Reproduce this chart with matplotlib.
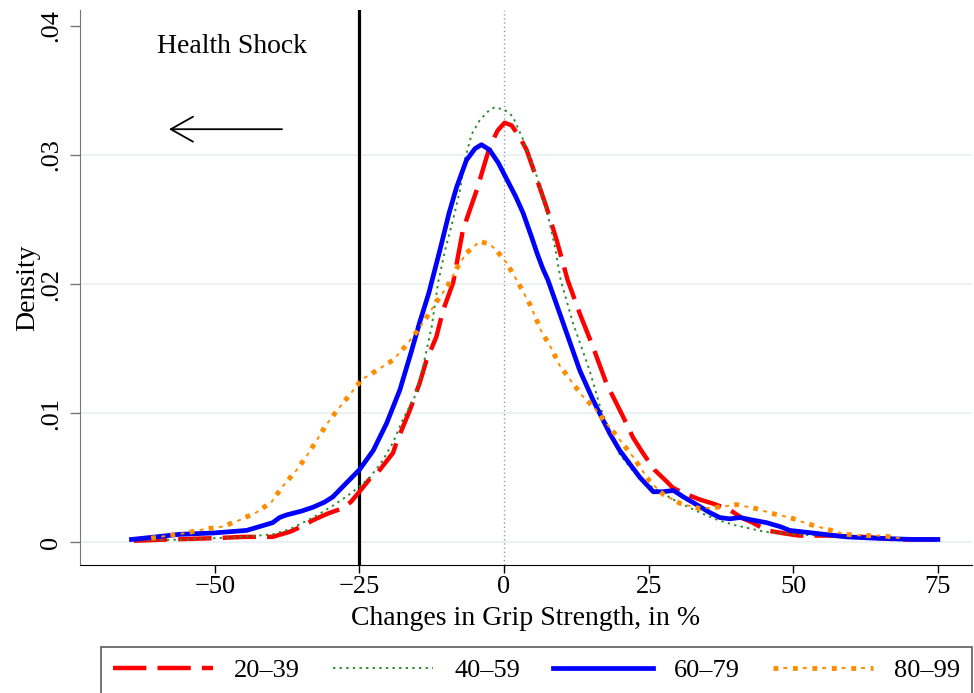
import numpy as np
import matplotlib
matplotlib.use("Agg")
import matplotlib.pyplot as plt

plt.rcParams['font.family'] = ['Liberation Serif', 'DejaVu Serif']

# kernel densities of grip strength changes by age group
red_x = [-64, -58, -50, -45, -40, -37, -35, -33, -30.5, -28, -26.5, -25, -23.2, -22, -19.2,
         -18.6, -16.3, -15.5, -14.6, -13.4, -11.7, -10.5, -8.8, -7.1, -4.7, -2.5, -1.1, 0.1,
         1.3, 2.7, 3.9, 5.7, 7.3, 9.1, 11, 13.1, 15.4, 17.7, 20.6, 22.3, 24, 26, 28.1, 29.2,
         31, 33.8, 36, 39, 41, 43, 45.4, 48, 51, 56, 62, 68, 75]
red_y = [0.0001, 0.0002, 0.0003, 0.0004, 0.0004, 0.0008, 0.0012, 0.0017, 0.0022, 0.0026,
         0.0031, 0.0039, 0.0049, 0.0053, 0.0069, 0.0077, 0.0102, 0.0112, 0.0123, 0.0141,
         0.0159, 0.0180, 0.0201, 0.0242, 0.0273, 0.0306, 0.0319, 0.0325, 0.0323, 0.0314,
         0.0304, 0.0281, 0.0260, 0.0234, 0.0203, 0.0177, 0.0151, 0.0123, 0.0097, 0.0081,
         0.0069, 0.0056, 0.0047, 0.0042, 0.0038, 0.0033, 0.0030, 0.0025, 0.0019, 0.0015,
         0.0009, 0.0007, 0.0005, 0.0005, 0.0004, 0.0002, 0.0002]

green_x = [-64, -55, -45, -40, -37, -33, -30, -27.3, -25, -23.2, -21, -19.2, -17.5, -15.5,
           -14, -12.5, -11.4, -10.2, -8.8, -7.6, -6.8, -5.6, -4.2, -2.5, -1.6, 0.1, 1.5, 3.3,
           5.7, 7.5, 8.8, 9.8, 11.9, 14.8, 16.6, 18, 20, 22.5, 24.7, 27, 30, 33.8, 37, 40,
           45, 50, 55, 60, 65, 71]
green_y = [0.0001, 0.0002, 0.0004, 0.0006, 0.0010, 0.0019, 0.0027, 0.0035, 0.0043, 0.0050,
           0.0063, 0.0077, 0.0095, 0.0112, 0.0136, 0.0167, 0.0201, 0.0226, 0.0250, 0.0273,
           0.0296, 0.0316, 0.0327, 0.0335, 0.0337, 0.0335, 0.0330, 0.0312, 0.0283, 0.0255,
           0.0229, 0.0203, 0.0170, 0.0133, 0.0105, 0.0089, 0.0068, 0.0054, 0.0045, 0.0039,
           0.0031, 0.0023, 0.0017, 0.0013, 0.0008, 0.0006, 0.0005, 0.0004, 0.0003, 0.0002]

blue_x = [-64.4, -56, -50.3, -44.5, -40, -38.8, -37.6, -35, -33, -31, -29.6, -27.2, -25,
          -22.6, -20.3, -18, -16, -14.6, -13, -11.1, -9.5, -8.2, -6.5, -5, -3.9, -2.5, -1,
          0.5, 2, 3.3, 4.8, 5.7, 6.7, 7.6, 10.2, 13.1, 15.4, 18.3, 20, 22, 23.5, 25.8, 27.5,
          29.3, 31, 33.3, 35.5, 37.3, 39, 40.8, 43, 45.4, 47.7, 49.4, 53.4, 59.2, 64, 70.7, 75]
blue_y = [0.0002, 0.0006, 0.0007, 0.0009, 0.0015, 0.0019, 0.0021, 0.0024, 0.0027, 0.0031,
          0.0035, 0.0046, 0.0056, 0.0071, 0.0092, 0.0118, 0.0148, 0.0170, 0.0193, 0.0226,
          0.0255, 0.0275, 0.0296, 0.0305, 0.0308, 0.0304, 0.0294, 0.0281, 0.0268, 0.0255,
          0.0236, 0.0224, 0.0212, 0.0203, 0.0170, 0.0133, 0.0110, 0.0084, 0.0071, 0.0059,
          0.0050, 0.0039, 0.0039, 0.0040, 0.0035, 0.0029, 0.0023, 0.0019, 0.0018, 0.0019,
          0.0017, 0.0015, 0.0012, 0.0009, 0.0007, 0.0004, 0.0003, 0.0002, 0.0002]

orange_x = [-61, -58, -55, -51.8, -48.6, -45.7, -42.8, -40.2, -38.3, -36, -34.2, -32.5,
            -30.7, -28.7, -26.7, -24.6, -22, -19.2, -17.2, -15.1, -13.4, -11.7, -9.7, -8.2,
            -6.5, -4.2, -2.5, -1.3, 0.5, 2.2, 4.5, 6.5, 8.2, 9.6, 11.4, 13.4, 15.6, 17.7,
            19.7, 22.3, 25.2, 27.5, 30.4, 33.8, 37, 40.2, 43.5, 46.5, 49.4, 52.6, 55.8, 58.9,
            62, 65.3, 68.4]
orange_y = [0.0003, 0.0005, 0.0007, 0.0010, 0.0012, 0.0017, 0.0023, 0.0031, 0.0043, 0.0055,
            0.0066, 0.0078, 0.0091, 0.0103, 0.0114, 0.0126, 0.0133, 0.0141, 0.0151, 0.0163,
            0.0174, 0.0186, 0.0199, 0.0212, 0.0224, 0.0233, 0.0231, 0.0226, 0.0216, 0.0203,
            0.0184, 0.0163, 0.0150, 0.0137, 0.0126, 0.0114, 0.0104, 0.0092, 0.0081, 0.0066,
            0.0047, 0.0037, 0.0030, 0.0026, 0.0027, 0.0029, 0.0026, 0.0022, 0.0019, 0.0014,
            0.0010, 0.0006, 0.0005, 0.0005, 0.0003]

labels = ['20–39', '40–59', '60–79', '80–99']
xticks = [-50, -25, 0, 25, 50, 75]
yticks = [0, 0.01, 0.02, 0.03, 0.04]
ytick_labels = ['0', '.01', '.02', '.03', '.04']
shock_line = -25

fig = plt.figure(figsize=(9.74, 6.93), dpi=100)
ax = fig.add_axes([80 / 974, 128 / 693, 892 / 974, 555 / 693])

# grid
for yv in yticks[:-1]:
    ax.axhline(yv, color='#e8f0f0', lw=1.2, zorder=0)

ax.axvline(0, color='#999999', lw=1, ls=(0, (1, 2)), zorder=1)
ax.axvline(shock_line, color='black', lw=2.3, zorder=1)

l1, = ax.plot(red_x, red_y, color='red', lw=3.2, ls=(0, (7.5, 2.5)), zorder=2)
l2, = ax.plot(green_x, green_y, color='#2e8b2e', lw=1.4, ls=(0, (1.2, 2.2)), zorder=3)
l3, = ax.plot(blue_x, blue_y, color='blue', lw=3.4, zorder=4)
# stata dash-dot: thick square dots with thin short dashes in between
l4a, = ax.plot(orange_x, orange_y, color='#ff8c00', lw=3.5, ls=(0, (1, 3)), zorder=5)
l4b, = ax.plot(orange_x, orange_y, color='#ff8c00', lw=1.4, ls=(4.7, (2, 8)), zorder=5)

ax.text(-47.1, 0.0384, 'Health Shock', fontsize=20, ha='center', va='center')
ax.annotate('', xy=(-58.4, 0.0320), xytext=(-37.9, 0.0320),
            arrowprops=dict(arrowstyle='->,head_length=0.8,head_width=0.45',
                            color='black', lw=1.3, mutation_scale=20))

ax.set_xlim(-73.3, 80.9)
ax.set_ylim(-0.00178, 0.04124)
ax.set_xticks(xticks)
ax.set_yticks(yticks)
ax.set_yticklabels(ytick_labels, rotation=90, va='center')
ax.tick_params(axis='x', labelsize=19, length=6, width=1, pad=2)
ax.tick_params(axis='y', labelsize=19, length=7, width=1, color='#777777', pad=6)

for s in ['top', 'right']:
    ax.spines[s].set_visible(False)
ax.spines['left'].set_color('#777777')
ax.spines['bottom'].set_color('black')

ax.set_xlabel('Changes in Grip Strength, in %', fontsize=20, labelpad=6)
ax.set_ylabel('Density', fontsize=20, labelpad=0)

leg = ax.legend([l1, l2, l3, (l4a, l4b)], labels,
                loc='upper left', bbox_to_anchor=(101 / 974, 46 / 693, 871 / 974, 0),
                bbox_transform=fig.transFigure, ncol=4, mode='expand', fontsize=19,
                frameon=True, fancybox=False, edgecolor='#333333', handlelength=3.8,
                borderpad=0.45, borderaxespad=0, columnspacing=1.5, handletextpad=0.8)
leg.get_frame().set_linewidth(1.2)

fig.savefig('out.png', dpi=100)
